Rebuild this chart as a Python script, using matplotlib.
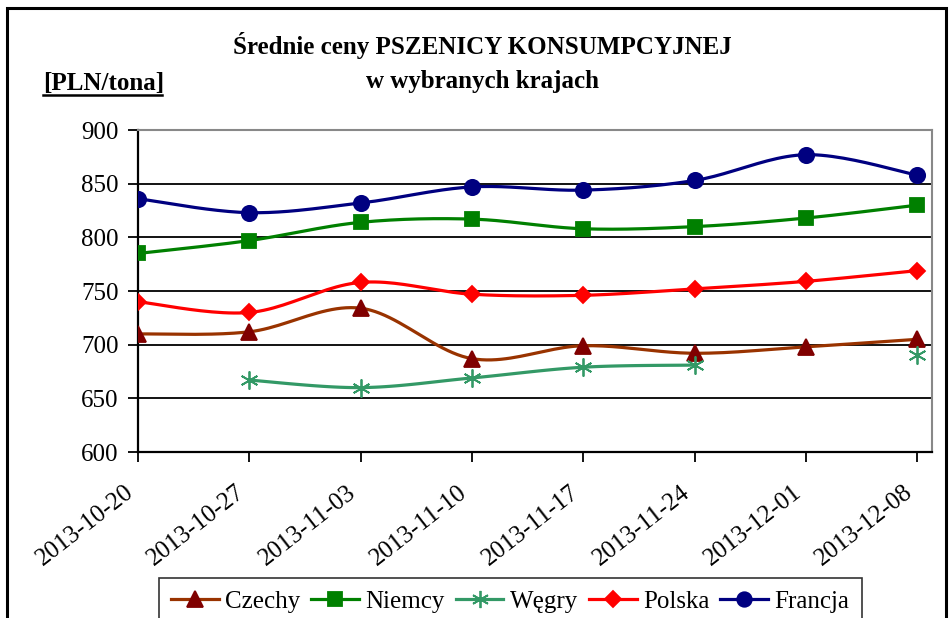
import numpy as np
import matplotlib.pyplot as plt
from matplotlib.lines import Line2D
from matplotlib.patches import Rectangle
from matplotlib.transforms import ScaledTranslation

plt.rcParams['font.family'] = ['Liberation Serif', 'DejaVu Serif']

dates = ["2013-10-20", "2013-10-27", "2013-11-03", "2013-11-10",
         "2013-11-17", "2013-11-24", "2013-12-01", "2013-12-08"]
czechy = [710, 712, 734, 687, 699, 692, 698, 705]
niemcy = [785, 797, 814, 817, 808, 810, 818, 830]
wegry = [np.nan, 667, 660, 669, 679, 681, np.nan, 690]
polska = [740, 730, 758, 747, 746, 752, 759, 769]
francja = [836, 823, 832, 847, 844, 853, 877, 858]


def smooth(xs, ys, n=24):
    # Catmull-Rom curve through each run of consecutive points
    out_x, out_y = [], []
    runs, cur = [], []
    for x, y in zip(xs, ys):
        if np.isnan(y):
            if cur:
                runs.append(cur)
            cur = []
        else:
            cur.append((x, y))
    if cur:
        runs.append(cur)
    for run in runs:
        if len(run) < 2:
            continue
        p = np.array(run, dtype=float)
        for i in range(len(p) - 1):
            p0 = p[i - 1] if i > 0 else p[i]
            p1, p2 = p[i], p[i + 1]
            p3 = p[i + 2] if i + 2 < len(p) else p[i + 1]
            t = np.linspace(0, 1, n)[:, None]
            c = 0.5 * (2 * p1 + (-p0 + p2) * t + (2 * p0 - 5 * p1 + 4 * p2 - p3) * t ** 2
                       + (-p0 + 3 * p1 - 3 * p2 + p3) * t ** 3)
            out_x.extend(c[:, 0])
            out_y.extend(c[:, 1])
        out_x.append(np.nan)
        out_y.append(np.nan)
    return out_x, out_y


fig = plt.figure(figsize=(9.5, 6.18), dpi=100)
ax = fig.add_axes([0.1453, 0.2686, 0.836, 0.521])

x = np.arange(len(dates))
series = [
    ("Czechy", czechy, "#993300", "#800000", "^", 12),
    ("Niemcy", niemcy, "#008000", "#008000", "s", 10),
    ("Węgry", wegry, "#339966", "#339966", (6, 2, 0), 13),
    ("Polska", polska, "#FF0000", "#FF0000", "D", 8.5),
    ("Francja", francja, "#000080", "#000080", "o", 11),
]
handles = []
for name, vals, lc, mc, mk, ms in series:
    v = np.array(vals, dtype=float)
    sx, sy = smooth(x, v)
    ax.plot(sx, sy, color=lc, lw=2.3, zorder=3)
    ax.plot(x, v, ls="none", marker=mk, ms=ms, color=mc, mec=mc, mew=1.3, zorder=4)
    handles.append(Line2D([], [], color=lc, lw=2.3, marker=mk, ms=ms * 0.95,
                          mfc=mc, mec=mc, mew=1.3, label=name))

ax.set_ylim(600, 900)
ax.set_xlim(0, 7.135)
ax.set_yticks([600, 650, 700, 750, 800, 850, 900])
ax.set_xticks(x)
ax.set_xticklabels(dates, rotation=38, ha="right", va="top", rotation_mode="anchor")
ax.tick_params(axis="y", labelsize=18, length=7, width=1.3, direction="out", pad=7)
ax.tick_params(axis="x", labelsize=18, length=7, width=1.3, direction="out", pad=14)
shift = ScaledTranslation(-0.14, 0.0, fig.dpi_scale_trans)
for lab in ax.get_xticklabels():
    lab.set_transform(lab.get_transform() + shift)
for yv in [650, 700, 750, 800, 850]:
    ax.axhline(yv, color="black", lw=1.3, zorder=1)
ax.spines["left"].set_linewidth(1.6)
ax.spines["bottom"].set_linewidth(1.6)
ax.spines["top"].set_color("#888888")
ax.spines["right"].set_color("#888888")
ax.spines["top"].set_linewidth(1.5)
ax.spines["right"].set_linewidth(1.5)

fig.text(0.508, 0.912, "Średnie ceny PSZENICY KONSUMPCYJNEJ", ha="center", va="baseline",
         fontsize=18, fontweight="bold")
fig.text(0.508, 0.857, "w wybranych krajach", ha="center", va="baseline",
         fontsize=18, fontweight="bold")
fig.text(0.045, 0.855, "[PLN/tona]", ha="left", va="baseline", fontsize=18, fontweight="bold")
fig.add_artist(Line2D([0.045, 0.171], [0.846, 0.846], color="black", lw=1.8,
                      transform=fig.transFigure))

fig.add_artist(Rectangle((0.007, -0.05), 0.989, 1.037, transform=fig.transFigure,
                         fill=False, ec="black", lw=2.2))

leg = fig.legend(handles=handles, loc="upper center", bbox_to_anchor=(0.537, 0.065),
                 ncol=5, fontsize=18, frameon=True, fancybox=False,
                 handlelength=1.9, columnspacing=0.45, handletextpad=0.25,
                 borderpad=0.5, borderaxespad=0)
leg.get_frame().set_edgecolor("black")
leg.get_frame().set_linewidth(1.2)

fig.savefig("out.png", dpi=100)
